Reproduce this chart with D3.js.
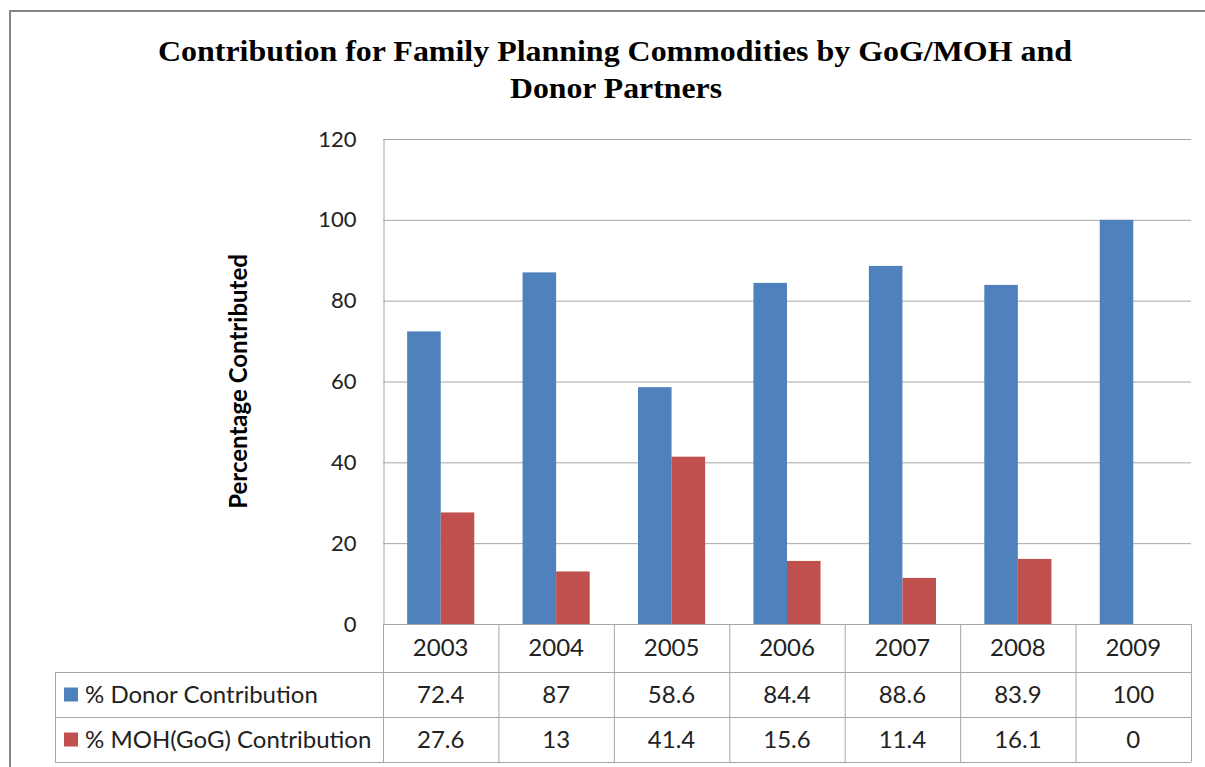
<!DOCTYPE html>
<html>
<head>
<meta charset="utf-8">
<script src="https://cdn.jsdelivr.net/npm/d3@7"></script>
<style>
  body { margin: 0; background: #fff; }
  svg { display: block; }
</style>
</head>
<body>
<svg id="chart" width="1205" height="767"></svg>
<script>
"use strict";

// ==========================
// data
// ==========================
var years = ["2003", "2004", "2005", "2006", "2007", "2008", "2009"];
var donor = [72.4, 87, 58.6, 84.4, 88.6, 83.9, 100];
var moh = [27.6, 13, 41.4, 15.6, 11.4, 16.1, 0];
var seriesNames = ["% Donor Contribution", "% MOH(GoG) Contribution"];
var seriesColors = ["#4f81bd", "#c0504d"];
var yTicks = [0, 20, 40, 60, 80, 100, 120];

var series = [donor, moh];

// ==========================
// layout
// ==========================
var svg = d3.select("#chart"),
    plotLeft = 383, plotRight = 1191, plotTop = 139, plotBottom = 624,
    rowH = [48, 45, 45],
    legendLeft = 55,
    bodyFont = "Lato, 'Open Sans', sans-serif",
    gridColor = "#a6a6a6";

var x = d3.scaleBand().domain(years).range([plotLeft, plotRight]).paddingInner(0).paddingOuter(0),
    x1 = d3.scaleBand().domain(d3.range(series.length)).range([0, x.bandwidth()]).paddingOuter(0.72).paddingInner(0),
    y = d3.scaleLinear().domain([0, 120]).range([plotBottom, plotTop]);

// outer frame (cropped at right/bottom)
svg.append("rect").attr("x", 10).attr("y", 11).attr("width", 1230).attr("height", 800)
  .attr("fill", "white").attr("stroke", "#868686").attr("stroke-width", 2);

// title (stretched like the original picture)
var title = svg.append("text").attr("text-anchor", "middle")
  .style("font-family", "'Liberation Serif', 'Times New Roman', serif")
  .style("font-weight", "bold").style("font-size", "29px").attr("fill", "#000");
title.append("tspan").attr("x", 615).attr("y", 61)
  .attr("textLength", 914).attr("lengthAdjust", "spacingAndGlyphs")
  .text("Contribution for Family Planning Commodities by GoG/MOH and");
title.append("tspan").attr("x", 616).attr("y", 98)
  .attr("textLength", 212).attr("lengthAdjust", "spacingAndGlyphs")
  .text("Donor Partners");

// gridlines
svg.append("g").selectAll("line").data(yTicks.filter(function (d) { return d > 0; })).enter().append("line")
  .attr("x1", plotLeft).attr("x2", plotRight)
  .attr("y1", function (d) { return y(d) + 0.5; }).attr("y2", function (d) { return y(d) + 0.5; })
  .attr("stroke", gridColor).attr("stroke-width", 1);

// y axis
var yAxis = svg.append("g").attr("transform", "translate(" + (plotLeft + 0.5) + ",0)")
  .call(d3.axisLeft(y).tickValues(yTicks).tickSize(0).tickPadding(27));
yAxis.select(".domain").attr("stroke", gridColor);
yAxis.selectAll("text").style("font-family", bodyFont).style("font-size", "22px").attr("fill", "#222");

// y title
svg.append("text").attr("transform", "translate(247," + ((plotTop + plotBottom) / 2) + ") rotate(-90)")
  .attr("text-anchor", "middle")
  .style("font-family", bodyFont).style("font-weight", "bold").style("font-size", "24px")
  .attr("fill", "#000").text("Percentage Contributed");

// bars
var groups = svg.append("g").selectAll("g").data(years).enter().append("g")
  .attr("transform", function (d) { return "translate(" + x(d) + ",0)"; });
groups.selectAll("rect").data(function (d, i) {
  return series.map(function (s, k) { return { k: k, v: s[i] }; });
}).enter().append("rect")
  .attr("x", function (d) { return x1(d.k); })
  .attr("width", x1.bandwidth())
  .attr("y", function (d) { return y(d.v); })
  .attr("height", function (d) { return y(0) - y(d.v); })
  .attr("fill", function (d) { return seriesColors[d.k]; });

// ==========================
// data table
// ==========================
var table = svg.append("g");
var rowTop = [plotBottom, plotBottom + rowH[0], plotBottom + rowH[0] + rowH[1]],
    tableBottom = plotBottom + rowH[0] + rowH[1] + rowH[2];

// horizontal lines
table.append("line").attr("x1", plotLeft).attr("x2", plotRight).attr("y1", plotBottom + 0.5).attr("y2", plotBottom + 0.5);
[rowTop[1], rowTop[2], tableBottom].forEach(function (yy) {
  table.append("line").attr("x1", legendLeft).attr("x2", plotRight).attr("y1", yy + 0.5).attr("y2", yy + 0.5);
});
// vertical lines
years.forEach(function (yr) {
  table.append("line").attr("x1", x(yr) + 0.5).attr("x2", x(yr) + 0.5).attr("y1", plotBottom).attr("y2", tableBottom);
});
table.append("line").attr("x1", plotRight + 0.5).attr("x2", plotRight + 0.5).attr("y1", plotBottom).attr("y2", tableBottom);
table.append("line").attr("x1", legendLeft + 0.5).attr("x2", legendLeft + 0.5).attr("y1", rowTop[1]).attr("y2", tableBottom);
table.selectAll("line").attr("stroke", gridColor).attr("stroke-width", 1);

// year labels
table.selectAll("text.year").data(years).enter().append("text").attr("class", "year")
  .attr("x", function (d) { return x(d) + x.bandwidth() / 2; })
  .attr("y", rowTop[0] + rowH[0] / 2).attr("dy", "0.35em")
  .attr("text-anchor", "middle").text(function (d) { return d; });

// value rows
series.forEach(function (s, k) {
  var cy = rowTop[k + 1] + rowH[k + 1] / 2;
  table.append("g").selectAll("text").data(s).enter().append("text")
    .attr("x", function (d, i) { return x(years[i]) + x.bandwidth() / 2; })
    .attr("y", cy).attr("dy", "0.35em").attr("text-anchor", "middle")
    .text(function (d) { return d; });
  table.append("rect").attr("x", 64).attr("y", cy - 7).attr("width", 14).attr("height", 14)
    .attr("fill", seriesColors[k]);
  table.append("text").attr("x", 85).attr("y", cy).attr("dy", "0.35em").text(seriesNames[k]);
});
table.selectAll("text").style("font-family", bodyFont).style("font-size", "24px").attr("fill", "#222");
</script>
</body>
</html>
